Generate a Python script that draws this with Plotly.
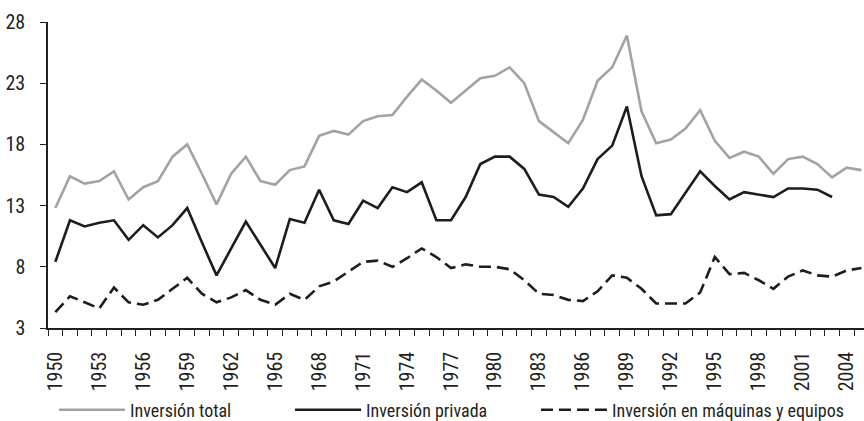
import plotly.graph_objects as go

years = list(range(1950, 2006))

inversion_total = [12.8, 15.4, 14.8, 15.0, 15.8, 13.5, 14.5, 15.0, 17.0, 18.0,
                   15.6, 13.1, 15.6, 17.0, 15.0, 14.7, 15.9, 16.2, 18.7, 19.1,
                   18.8, 19.9, 20.3, 20.4, 21.9, 23.3, 22.4, 21.4, 22.4, 23.4,
                   23.6, 24.3, 23.0, 19.9, 19.0, 18.1, 20.0, 23.2, 24.3, 26.9,
                   20.7, 18.1, 18.4, 19.3, 20.8, 18.3, 16.9, 17.4, 17.0, 15.6,
                   16.8, 17.0, 16.4, 15.3, 16.1, 15.9]

inversion_privada = [8.4, 11.8, 11.3, 11.6, 11.8, 10.2, 11.4, 10.4, 11.4, 12.8,
                     10.0, 7.3, 9.5, 11.7, 9.8, 7.9, 11.9, 11.6, 14.3, 11.8,
                     11.5, 13.4, 12.8, 14.5, 14.1, 14.9, 11.8, 11.8, 13.7, 16.4,
                     17.0, 17.0, 16.0, 13.9, 13.7, 12.9, 14.4, 16.8, 17.9, 21.1,
                     15.4, 12.2, 12.3, 14.1, 15.8, 14.6, 13.5, 14.1, 13.9, 13.7,
                     14.4, 14.4, 14.3, 13.7, None, None]

inversion_maquinas = [4.3, 5.6, 5.1, 4.6, 6.3, 5.1, 4.9, 5.3, 6.2, 7.1,
                      5.8, 5.1, 5.5, 6.1, 5.3, 4.9, 5.8, 5.3, 6.4, 6.8,
                      7.6, 8.4, 8.5, 8.0, 8.7, 9.5, 8.8, 7.9, 8.2, 8.0,
                      8.0, 7.8, 6.9, 5.8, 5.7, 5.3, 5.2, 6.0, 7.3, 7.1,
                      6.2, 5.0, 5.0, 5.0, 5.9, 8.8, 7.4, 7.5, 6.9, 6.2,
                      7.2, 7.7, 7.3, 7.2, 7.7, 7.9]

y_ticks = [3, 8, 13, 18, 23, 28]
x_tick_years = list(range(1950, 2005, 3))

FONT = "Roboto Condensed, Liberation Sans Narrow, Roboto, sans-serif"
AXIS_COLOR = "#231f20"

fig = go.Figure()
fig.add_trace(go.Scatter(x=years, y=inversion_total, mode="lines",
                         name="Inversión total", legend="legend",
                         line=dict(color="#a3a3a3", width=2.6)))
fig.add_trace(go.Scatter(x=years, y=inversion_privada, mode="lines",
                         name="Inversión privada", legend="legend",
                         line=dict(color="#1f1c1d", width=2.6)))
fig.add_trace(go.Scatter(x=years, y=inversion_maquinas, mode="lines",
                         name="Inversión en máquinas y equipos", legend="legend2",
                         line=dict(color="#1f1c1d", width=2.6, dash="12px,6px")))

legend_common = dict(orientation="h", xanchor="left", y=-0.268, yanchor="middle",
                     font=dict(family=FONT, size=18, color="#231f20"),
                     itemwidth=66, bgcolor="rgba(0,0,0,0)", borderwidth=0)

fig.update_layout(
    width=864, height=421, autosize=False,
    margin=dict(l=48, r=0, t=22, b=93, autoexpand=False),
    plot_bgcolor="white", paper_bgcolor="white",
    font=dict(family=FONT, size=20, color="#231f20"),
    showlegend=True,
    legend=dict(x=0.0074, entrywidth=155, entrywidthmode="pixels", **legend_common),
    legend2=dict(x=0.598, **legend_common),
    xaxis=dict(range=[1949.5, 2005.18], showgrid=False, zeroline=False,
               showline=True, linecolor=AXIS_COLOR, linewidth=1.5,
               tickmode="array", tickvals=x_tick_years,
               ticktext=[str(y) for y in x_tick_years],
               ticks="", tickangle=-90, ticklabelstandoff=14, automargin=False,
               minor=dict(ticks="outside", tick0=1949.5, dtick=1, ticklen=6,
                          tickcolor=AXIS_COLOR, tickwidth=1.2, showgrid=False),
               tickfont=dict(family=FONT, size=20)),
    yaxis=dict(range=[3, 28], showgrid=False, zeroline=False,
               showline=True, linecolor=AXIS_COLOR, linewidth=1.5,
               tickmode="array", tickvals=y_ticks, automargin=False,
               ticks="outside", ticklen=6, tickcolor=AXIS_COLOR, tickwidth=1.2,
               ticklabelstandoff=11,
               tickfont=dict(family=FONT, size=20)),
)

fig.write_html("out.html", config={"displayModeBar": False},
               post_script="document.body.style.margin='0';document.body.style.overflow='hidden';")
